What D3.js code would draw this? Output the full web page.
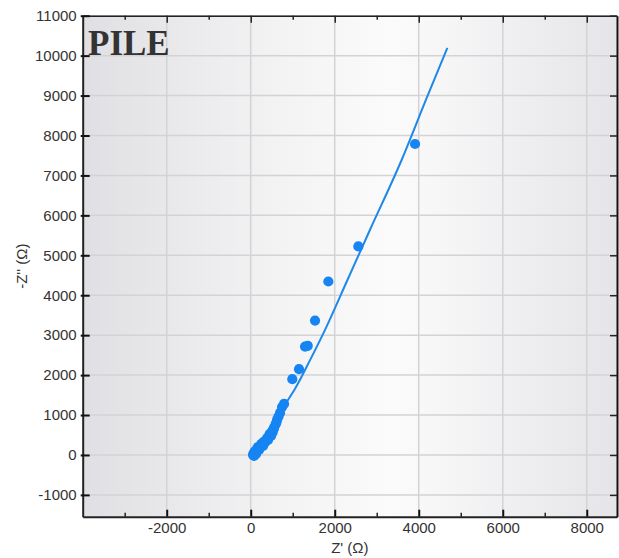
<!DOCTYPE html>
<html><head><meta charset="utf-8">
<script src="https://cdn.jsdelivr.net/npm/d3@7"></script>
<style>html,body{margin:0;padding:0;background:#fff;}svg{display:block;}</style>
</head><body>
<script>
// Data
const zReal = [55, 70, 79, 95, 102, 126, 150, 175, 198, 230, 250, 269, 293, 310, 330, 364, 390, 412, 450, 483, 520, 540, 555, 590, 610, 626, 660, 698, 745, 793, 990, 1150, 1293, 1357, 1531, 1848, 2562, 3912];
const zImag = [0, 40, -25, 90, 75, 25, 150, 200, 125, 190, 270, 276, 226, 330, 300, 351, 420, 376, 520, 476, 560, 640, 677, 760, 810, 877, 960, 1053, 1200, 1278, 1897, 2148, 2714, 2732, 3366, 4344, 5221, 7787];
const fitReal = [40, 400, 857, 1055, 1400, 1769, 2300, 2840, 3595, 4190, 4681];
const fitImag = [-20, 600, 1330, 1660, 2350, 3133, 4376, 5639, 7393, 8940, 10193];
const xTicks = [-2000, 0, 2000, 4000, 6000, 8000];
const xMinor = [-3000, -1000, 1000, 3000, 5000, 7000];
const yTicks = [-1000, 0, 1000, 2000, 3000, 4000, 5000, 6000, 7000, 8000, 9000, 10000, 11000];
const titleText = "PILE";
const xLabel = "Z' (\u03A9)";
const yLabel = "-Z'' (\u03A9)";

(function () {
const W = 619, H = 558;
const L = 82.7, T = 15.7, R = 617, B = 516.7;
const svg = d3.select("body").append("svg").attr("width", W).attr("height", H);
const x = d3.scaleLinear().domain([-4000, 8720]).range([L, R]);
const y = d3.scaleLinear().domain([-1546, 11000]).range([B, T]);

const defs = svg.append("defs");
const g = defs.append("linearGradient").attr("id", "bg").attr("x1", "0").attr("x2", "1").attr("y1", "0").attr("y2", "0");
g.append("stop").attr("offset", "0%").attr("stop-color", "#e0e0e4");
g.append("stop").attr("offset", "35%").attr("stop-color", "#f2f2f3");
g.append("stop").attr("offset", "58%").attr("stop-color", "#fbfbfb");
g.append("stop").attr("offset", "100%").attr("stop-color", "#e5e5e9");
svg.append("rect").attr("x", L).attr("y", T).attr("width", R - L).attr("height", B - T).attr("fill", "url(#bg)");

// grid
svg.append("g").selectAll("line").data(yTicks).join("line")
  .attr("x1", L).attr("x2", R).attr("y1", d => y(d)).attr("y2", d => y(d))
  .attr("stroke", "#d3d3d6").attr("stroke-width", 1.5);
svg.append("g").selectAll("line").data(xTicks).join("line")
  .attr("y1", T).attr("y2", B).attr("x1", d => x(d)).attr("x2", d => x(d))
  .attr("stroke", "#d3d3d6").attr("stroke-width", 1.5);

// fit line
const line = d3.line().x(d => x(d[0])).y(d => y(d[1])).curve(d3.curveMonotoneX);
svg.append("path").datum(fitReal.map((v, i) => [v, fitImag[i]]))
  .attr("d", line).attr("fill", "none").attr("stroke", "#1e88e8").attr("stroke-width", 2);

// points
svg.append("g").selectAll("circle").data(zReal.map((v, i) => [v, zImag[i]])).join("circle")
  .attr("cx", d => x(d[0])).attr("cy", d => y(d[1])).attr("r", 5.1).attr("fill", "#1684f2");

// axes
const fmt = d => String(d);
const fontTick = "15px 'Liberation Sans', Arial, sans-serif";
const bottomAx = d3.axisBottom(x).tickValues(xTicks).tickSizeInner(-7).tickSizeOuter(0).tickPadding(6).tickFormat(fmt);
const bx = svg.append("g").attr("transform", `translate(0,${B})`).call(bottomAx);
bx.select(".domain").attr("stroke", "#222").attr("stroke-width", 2);
bx.selectAll(".tick line").attr("stroke", "#111").attr("stroke-width", 2);
bx.selectAll("text").style("font", fontTick).attr("fill", "#333");
svg.append("g").attr("transform", `translate(0,${B})`)
  .call(d3.axisBottom(x).tickValues(xMinor).tickSizeInner(-4).tickSizeOuter(0).tickFormat(""))
  .call(s => s.select(".domain").remove())
  .selectAll(".tick line").attr("stroke", "#222").attr("stroke-width", 1.5);

const topG = svg.append("g").attr("transform", `translate(0,${T})`)
  .call(d3.axisTop(x).tickValues(xTicks).tickSizeInner(-7).tickSizeOuter(0).tickFormat(""));
topG.select(".domain").attr("stroke", "#222").attr("stroke-width", 1.5);
topG.selectAll(".tick line").attr("stroke", "#222").attr("stroke-width", 1.5);
svg.append("g").attr("transform", `translate(0,${T})`)
  .call(d3.axisTop(x).tickValues(xMinor).tickSizeInner(-4).tickSizeOuter(0).tickFormat(""))
  .call(s => s.select(".domain").remove())
  .selectAll(".tick line").attr("stroke", "#222").attr("stroke-width", 1.5);

const leftAx = d3.axisLeft(y).tickValues(yTicks).tickSizeInner(-7).tickSizeOuter(0).tickPadding(6).tickFormat(fmt);
const ly = svg.append("g").attr("transform", `translate(${L},0)`).call(leftAx);
ly.select(".domain").attr("stroke", "#222").attr("stroke-width", 2);
ly.selectAll(".tick line").attr("stroke", "#111").attr("stroke-width", 2).attr("x1", -2);
ly.selectAll("text").style("font", fontTick).attr("fill", "#333");

const rightG = svg.append("g").attr("transform", `translate(${R},0)`)
  .call(d3.axisRight(y).tickValues(yTicks).tickSizeInner(-7).tickSizeOuter(0).tickFormat(""));
rightG.select(".domain").attr("stroke", "#111").attr("stroke-width", 2);
rightG.selectAll(".tick line").attr("stroke", "#222").attr("stroke-width", 1.5);

// labels
svg.append("text").attr("x", (L + R) / 2).attr("y", 553).attr("text-anchor", "middle")
  .style("font", "15px 'Liberation Sans', Arial, sans-serif").attr("fill", "#333").text(xLabel);
svg.append("text").attr("transform", `translate(27,${(T + B) / 2}) rotate(-90)`).attr("text-anchor", "middle")
  .style("font", "15px 'Liberation Sans', Arial, sans-serif").attr("fill", "#333").text(yLabel);
svg.append("text").attr("x", 88).attr("y", 55)
  .style("font", "bold 35px 'Liberation Serif', 'Times New Roman', serif").attr("fill", "#333").text(titleText);
})();
</script>
</body></html>
